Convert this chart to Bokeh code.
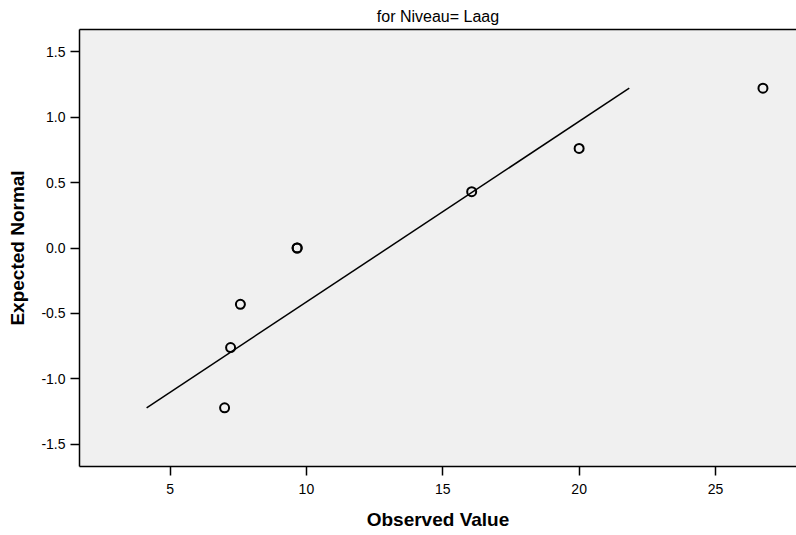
from bokeh.plotting import figure
from bokeh.models import Range1d, FixedTicker, LinearAxis
from bokeh.embed import file_html
from bokeh.resources import INLINE
import numpy as np

# Observed values and their expected normal scores (Niveau = Laag)
observed = [7.0, 7.22, 7.58, 9.66, 9.66, 16.06, 20.0, 26.74]
expected = [-1.22, -0.76, -0.43, 0.0, 0.0, 0.43, 0.76, 1.22]

x_ticks = [5, 10, 15, 20, 25]
x_tick_labels = ["5", "10", "15", "20", "25"]
y_ticks = [-1.5, -1.0, -0.5, 0.0, 0.5, 1.0, 1.5]
y_tick_labels = ["-1.5", "-1.0", "-0.5", "0.0", "0.5", "1.0", "1.5"]

FONT = "Liberation Sans"

p = figure(
    width=796, height=535,
    x_range=Range1d(1.68, 27.97), y_range=Range1d(-1.668, 1.668),
    min_border_left=79, min_border_right=0, min_border_top=29, min_border_bottom=69,
    background_fill_color="#f0f0f0", border_fill_color="white",
    outline_line_color=None,
    output_backend="svg", toolbar_location=None,
)

p.title.text = "for Niveau= Laag"
p.title.align = "center"
p.title.text_font = FONT
p.title.text_font_size = "16px"
p.title.text_font_style = "normal"
p.title.text_color = "black"

p.xgrid.visible = False
p.ygrid.visible = False

def style_axis(ax, ticks, labels):
    ax.ticker = FixedTicker(ticks=ticks)
    ax.major_label_overrides = {t: l for t, l in zip(ticks, labels)}
    ax.minor_tick_line_color = None
    ax.major_tick_in = 0
    ax.major_tick_out = 9
    ax.major_tick_line_width = 1.5
    ax.major_tick_line_color = "black"
    ax.axis_line_width = 1.5
    ax.axis_line_color = "black"
    ax.major_label_text_font = FONT
    ax.major_label_text_font_size = "14px"
    ax.major_label_text_color = "black"
    ax.axis_label_text_font = FONT
    ax.axis_label_text_font_size = "19px"
    ax.axis_label_text_font_style = "bold"
    ax.axis_label_text_color = "black"

style_axis(p.xaxis[0], x_ticks, x_tick_labels)
style_axis(p.yaxis[0], y_ticks, y_tick_labels)
p.xaxis.axis_label = "Observed Value"
p.yaxis.axis_label = "Expected Normal"
p.xaxis.major_label_standoff = 8
p.xaxis.axis_label_standoff = 12
p.yaxis.major_label_standoff = 5
p.yaxis.axis_label_standoff = 10

# top frame edge
top = LinearAxis(ticker=FixedTicker(ticks=[]), axis_line_width=1.5, axis_line_color="black",
                 major_tick_out=0, major_tick_in=0, minor_tick_out=0, minor_tick_in=0,
                 major_label_text_font_size="0px")
p.add_layout(top, "above")

# reference line: mean + sd * z over the range of expected scores
obs = np.array(observed)
mu, sd = obs.mean(), obs.std(ddof=1)
z_ends = [min(expected), max(expected)]
p.line([mu + sd * z for z in z_ends], z_ends, line_color="black", line_width=1.5)

p.scatter(observed, expected, marker="circle", size=9, fill_color=None,
          line_color="black", line_width=2)

open("out.html", "w").write(file_html(p, INLINE))
